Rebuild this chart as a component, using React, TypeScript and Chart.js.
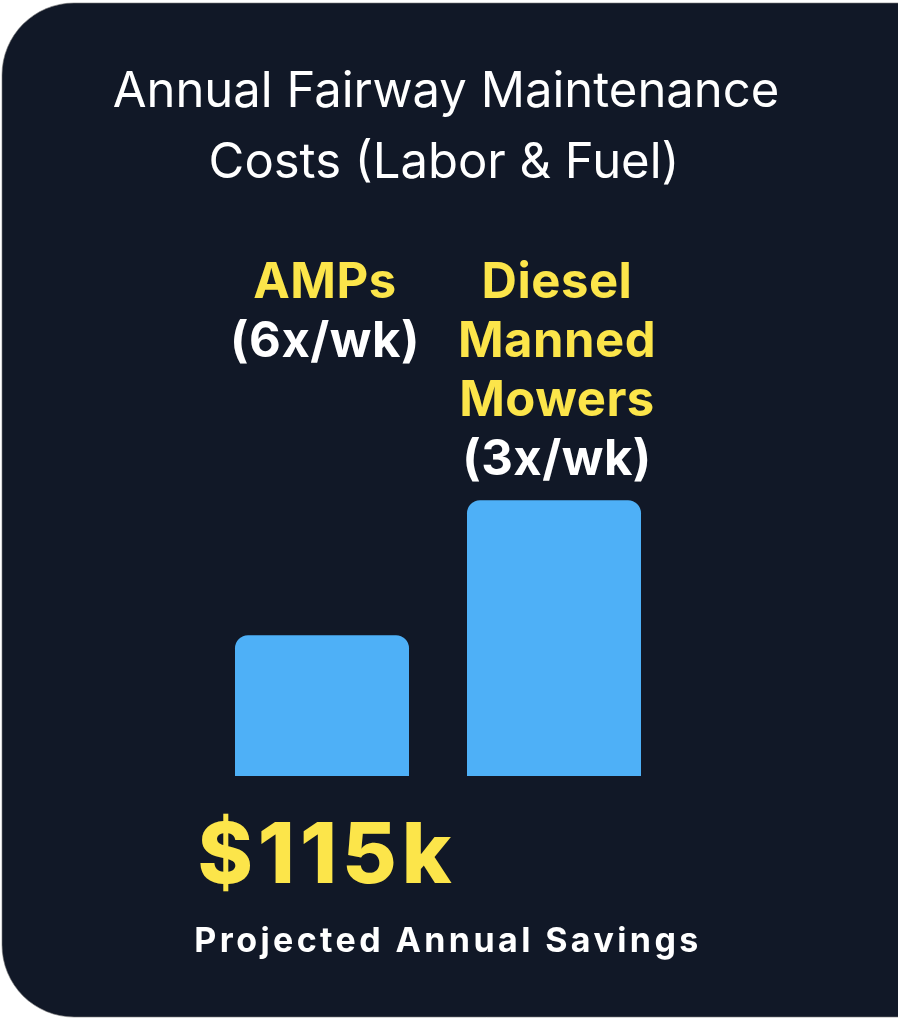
import React, { useEffect, useRef } from "react";
import { Chart, registerables } from "chart.js";

Chart.register(...registerables);

const categories = ["AMPs (6x/wk)", "Diesel Manned Mowers (3x/wk)"];
const categoryNameLines = [["AMPs"], ["Diesel", "Manned", "Mowers"]];
const frequencyLabels = ["(6x/wk)", "(3x/wk)"];
const annualCosts = [120, 235]; // $k
const titleLines = ["Annual Fairway Maintenance", "Costs (Labor & Fuel)"];
const savingsValue = "$115k";
const savingsLabel = "Projected Annual Savings";

const BG = "#111827";
const BAR = "#4eb0f7";
const YELLOW = "#fce54a";
const WHITE = "#ffffff";

const decorPlugin = {
  id: "decor",
  beforeDraw(chart: any) {
    const { ctx, width, height } = chart;
    ctx.save();
    ctx.fillStyle = "#ffffff";
    ctx.fillRect(0, 0, width, height);
    const x = 2, y = 3, w = width + 80, h = 1014, r = 72;
    ctx.beginPath();
    ctx.moveTo(x + r, y);
    ctx.lineTo(x + w, y);
    ctx.lineTo(x + w, y + h);
    ctx.lineTo(x + r, y + h);
    ctx.arcTo(x, y + h, x, y + h - r, r);
    ctx.lineTo(x, y + r);
    ctx.arcTo(x, y, x + r, y, r);
    ctx.closePath();
    ctx.fillStyle = BG;
    ctx.fill();
    ctx.strokeStyle = "rgba(120,120,120,0.6)";
    ctx.lineWidth = 1;
    ctx.stroke();
    ctx.restore();
  },
  afterDraw(chart: any) {
    const { ctx } = chart;
    const xs = chart.scales.x;
    ctx.save();
    ctx.textAlign = "center";
    ctx.textBaseline = "alphabetic";
    // title
    ctx.fillStyle = WHITE;
    ctx.font = "400 49px Inter";
    ctx.fillText(titleLines[0], 446, 107);
    ctx.fillText(titleLines[1], 444, 178);
    // category labels
    ctx.font = "bold 49px Inter";
    (ctx as any).letterSpacing = "0.5px";
    categories.forEach((_, i) => {
      const cx = xs.getPixelForValue(i) + 3;
      let by = 298;
      ctx.fillStyle = YELLOW;
      categoryNameLines[i].forEach((ln) => {
        ctx.fillText(ln, cx, by);
        by += 59;
      });
      ctx.fillStyle = WHITE;
      ctx.fillText(frequencyLabels[i], cx, by);
    });
    // savings
    ctx.fillStyle = YELLOW;
    ctx.font = "800 84px Inter";
    (ctx as any).letterSpacing = "5px";
    ctx.fillText(savingsValue, xs.getPixelForValue(0) + 5, 883);
    ctx.fillStyle = WHITE;
    ctx.font = "bold 34px Inter";
    (ctx as any).letterSpacing = "3.4px";
    ctx.fillText(savingsLabel, 448, 952);
    ctx.restore();
  },
};

export default function App() {
  const ref = useRef<HTMLCanvasElement>(null);
  useEffect(() => {
    document.body.style.margin = "0";
    const chart = new Chart(ref.current!, {
      type: "bar",
      data: {
        labels: categories,
        datasets: [
          {
            data: annualCosts,
            backgroundColor: BAR,
            borderRadius: { topLeft: 13, topRight: 13, bottomLeft: 0, bottomRight: 0 },
            borderSkipped: false,
            barPercentage: 0.75,
            categoryPercentage: 1,
          },
        ],
      },
      options: {
        animation: false,
        responsive: false,
        layout: { padding: { left: 206, right: 228, top: 424, bottom: 248 } },
        plugins: { legend: { display: false }, tooltip: { enabled: false }, title: { display: false } },
        scales: {
          x: { display: false },
          y: { display: false, min: 0, max: 300 },
        },
      },
      plugins: [decorPlugin],
    });
    (document as any).fonts?.ready?.then(() => chart.draw());
    return () => chart.destroy();
  }, []);
  return (
    <div style={{ width: 898, height: 1024 }}>
      <canvas ref={ref} width={898} height={1024} style={{ display: "block" }} />
    </div>
  );
}
